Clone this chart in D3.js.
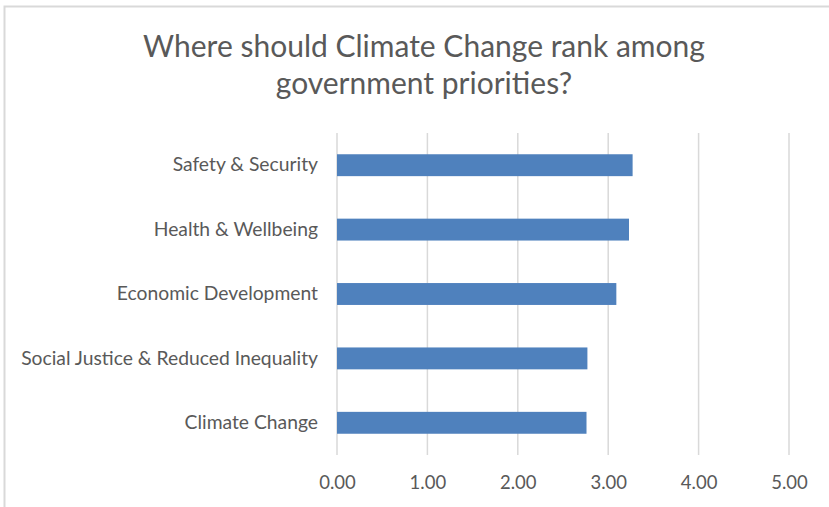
<!DOCTYPE html>
<html>
<head>
<meta charset="utf-8">
<script src="https://cdn.jsdelivr.net/npm/d3@7"></script>
<style>
  body { margin: 0; background: #fff; }
  text { font-family: Lato, "Open Sans", sans-serif; fill: #595959; }
</style>
</head>
<body>
<div id="chart"></div>
<script>
// data
var categories = ["Safety & Security", "Health & Wellbeing", "Economic Development",
                  "Social Justice & Reduced Inequality", "Climate Change"];
var values = [3.27, 3.23, 3.09, 2.77, 2.76];
var tickValues = [0, 1, 2, 3, 4, 5];
var titleLines = ["Where should Climate Change rank among", "government priorities?"];

var W = 829, H = 507;
var svg = d3.select("#chart")
    .append("svg")
    .attr("width", W)
    .attr("height", H);

// chart frame (right / bottom edges fall outside the picture)
svg.append("rect")
    .attr("x", 4.5).attr("y", 6.5)
    .attr("width", W + 20).attr("height", H + 20)
    .attr("fill", "#fff")
    .attr("stroke", "#d9d9d9")
    .attr("stroke-width", 2);

// title
svg.selectAll(".title")
    .data(titleLines)
    .enter().append("text")
    .attr("class", "title")
    .attr("x", 424)
    .attr("y", function(d, i) { return 57 + i * 37; })
    .attr("text-anchor", "middle")
    .attr("font-size", 30)
    .text(d => d);

var x = d3.scaleLinear()
    .domain([0, 5])
    .range([337, 789]);

var y = d3.scaleBand()
    .domain(categories)
    .range([133, 455])
    .paddingInner(0.66)
    .paddingOuter(0.33);

// gridlines
svg.append("g")
    .selectAll("line")
    .data(tickValues)
    .enter().append("line")
    .attr("x1", d => x(d)).attr("x2", d => x(d))
    .attr("y1", 133).attr("y2", 455)
    .attr("stroke", "#d9d9d9")
    .attr("stroke-width", 1.5);

// x axis labels
var xAxis = svg.append("g")
    .attr("transform", "translate(0,455)")
    .call(d3.axisBottom(x).tickValues(tickValues).tickSize(0).tickPadding(21)
        .tickFormat(d3.format(".2f")));
xAxis.select(".domain").remove();
xAxis.selectAll("text")
    .attr("font-size", 18.5)
    .attr("font-family", "Lato, 'Open Sans', sans-serif")
    .attr("fill", "#595959");

// y axis labels
var yAxis = svg.append("g")
    .attr("transform", "translate(337,0)")
    .call(d3.axisLeft(y).tickSize(0).tickPadding(19));
yAxis.select(".domain").remove();
yAxis.selectAll("text")
    .attr("font-size", 19.3)
    .attr("font-family", "Lato, 'Open Sans', sans-serif")
    .attr("fill", "#595959");

// bars
svg.append("g")
    .selectAll("rect")
    .data(values)
    .enter().append("rect")
    .attr("x", x(0))
    .attr("y", (d, i) => y(categories[i]))
    .attr("width", d => x(d) - x(0))
    .attr("height", y.bandwidth())
    .attr("fill", "#4f81bd");
</script>
</body>
</html>
